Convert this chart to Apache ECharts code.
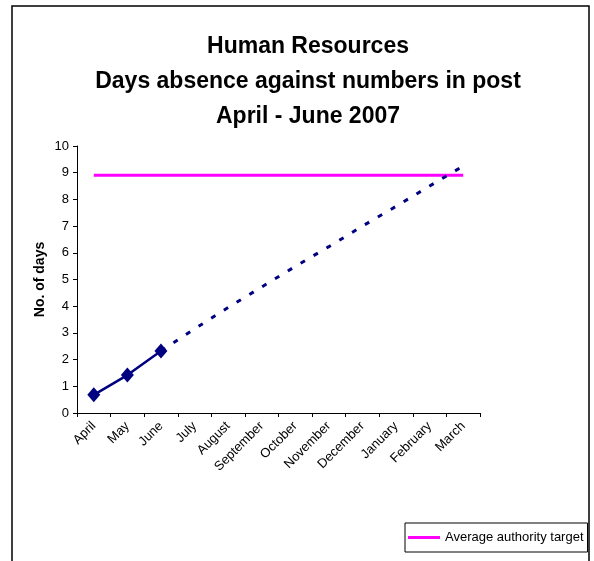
<!DOCTYPE html>
<html>
<head>
<meta charset="utf-8">
<script src="https://cdn.jsdelivr.net/npm/echarts@6/dist/echarts.min.js"></script>
<style>
  html, body { margin: 0; padding: 0; background: #fff; }
  #chart { width: 594px; height: 561px; }
</style>
</head>
<body>
<div id="chart"></div>
<script>
// Months of the financial year
const months = ['April', 'May', 'June', 'July', 'August', 'September', 'October',
  'November', 'December', 'January', 'February', 'March'];
// Cumulative days absence recorded so far (April - June)
const actualDays = [0.68, 1.42, 2.32, null, null, null, null, null, null, null, null, null];
// Projected cumulative days absence for the rest of the year
const projectedDays = [null, null, 2.32, 3.15, 3.95, 4.72, 5.49, 6.23, 7.0, 7.74, 8.5, 9.25];
// Average authority target
const targetDays = [8.9, 8.9, 8.9, 8.9, 8.9, 8.9, 8.9, 8.9, 8.9, 8.9, 8.9, 8.9];
const yTicks = [0, 1, 2, 3, 4, 5, 6, 7, 8, 9, 10];

const FONT = "'Liberation Sans', Arial, sans-serif";
const chart = echarts.init(document.getElementById('chart'));

chart.setOption({
  animation: false,
  backgroundColor: '#fff',
  textStyle: { fontFamily: FONT, color: '#000' },
  graphic: [{
    type: 'rect',
    shape: { x: 12, y: 6, width: 577, height: 620 },
    style: { fill: 'none', stroke: '#000', lineWidth: 1.5 },
    z: -1
  }],
  title: {
    text: 'Human Resources\nDays absence against numbers in post\nApril - June 2007',
    left: 303,
    textAlign: 'center',
    top: 24,
    textStyle: { fontFamily: FONT, fontSize: 23, fontWeight: 'bold', lineHeight: 35, color: '#000' }
  },
  legend: {
    data: [{ name: 'Average authority target', icon: 'rect' }],
    left: 405,
    top: 523,
    orient: 'vertical',
    itemWidth: 32,
    itemHeight: 3,
    itemGap: 4,
    padding: [8, 4, 8, 3],
    borderColor: '#000',
    borderWidth: 1,
    textStyle: { fontFamily: FONT, fontSize: 13, color: '#000' }
  },
  grid: { left: 77, right: 114, top: 146, bottom: 148 },
  xAxis: {
    type: 'category',
    data: months,
    boundaryGap: true,
    axisLine: { lineStyle: { color: '#000', width: 1 } },
    axisTick: { show: true, length: 4, lineStyle: { color: '#000' } },
    axisLabel: { rotate: 45, fontSize: 13, color: '#000', fontFamily: FONT, margin: 11, interval: 0 },
    splitLine: { show: false }
  },
  yAxis: {
    type: 'value',
    min: yTicks[0],
    max: yTicks[yTicks.length - 1],
    interval: 1,
    name: 'No. of days',
    nameLocation: 'middle',
    nameRotate: 90,
    nameGap: 30,
    nameMoveOverlap: false,
    nameTextStyle: { fontFamily: FONT, fontSize: 14, fontWeight: 'bold', color: '#000' },
    axisLine: { show: true, lineStyle: { color: '#000', width: 1 } },
    axisTick: { show: true, length: 4, lineStyle: { color: '#000' } },
    axisLabel: { fontSize: 13, color: '#000', fontFamily: FONT, margin: 8 },
    splitLine: { show: false }
  },
  series: [
    {
      name: 'Days absence',
      type: 'line',
      data: actualDays,
      symbol: 'diamond',
      symbolSize: [13, 15],
      showSymbol: true,
      itemStyle: { color: '#000080' },
      lineStyle: { color: '#000080', width: 2.5 },
      z: 3
    },
    {
      name: 'Projected',
      type: 'line',
      data: projectedDays,
      symbol: 'none',
      lineStyle: { color: '#000080', width: 3, type: [5, 10] },
      z: 2
    },
    {
      name: 'Average authority target',
      type: 'line',
      data: targetDays,
      symbol: 'none',
      itemStyle: { color: '#FF00FF' },
      lineStyle: { color: '#FF00FF', width: 3 },
      z: 1
    }
  ]
});
</script>
</body>
</html>
